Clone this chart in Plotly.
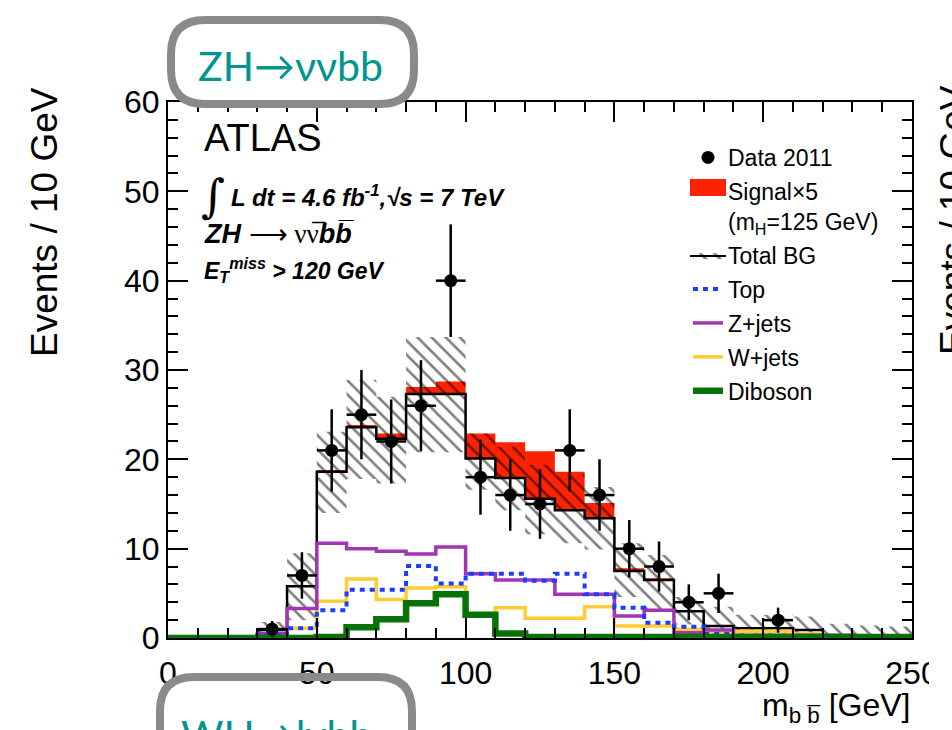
import plotly.graph_objects as go

# ---------------- data (10 GeV bins from 0 to 250 GeV) ----------------
bin_edges = [0, 10, 20, 30, 40, 50, 60, 70, 80, 90, 100, 110, 120, 130, 140, 150,
             160, 170, 180, 190, 200, 210, 220, 230, 240, 250]

total_bg = [0, 0, 0, 0.9, 5.8, 18.6, 23.6, 22.3, 27.3, 27.3, 20.1, 17.9, 15.6, 14.3,
            13.4, 7.5, 6.5, 3.0, 1.35, 1.1, 1.1, 0.9, 0.3, 0.2, 0.2]
signal_x5 = [0, 0, 0, 0, 0, 0.2, 0.25, 0.6, 0.8, 1.4, 2.8, 4.0, 5.3, 4.3, 1.7, 0.3,
             0.2, 0.1, 0, 0, 0, 0, 0, 0, 0]
bg_band_lo = [0, 0, 0, 0, 2.0, 14.0, 17.8, 17.3, 20.8, 20.8, 16.6, 14.3, 11.6, 10.6,
              9.9, 4.6, 3.2, 1.5, 0, 0, 0, 0, 0, 0, 0]
bg_band_hi = [0, 0, 0, 1.8, 9.5, 23.1, 28.9, 27.0, 33.7, 33.7, 22.9, 21.4, 19.4, 18.3,
              16.9, 10.6, 9.3, 4.6, 3.5, 2.6, 2.6, 2.4, 1.6, 1.4, 1.3]
top_bg = [0, 0, 0, 0.3, 1.1, 3.1, 5.4, 5.4, 8.05, 6.1, 7.2, 7.2, 6.4, 7.2, 4.9, 3.4,
          1.7, 1.25, 0.45, 0.15, 0.15, 0.15, 0.1, 0.05, 0.05]
zjets = [0, 0, 0, 0.5, 3.3, 10.6, 10.0, 9.7, 9.4, 10.2, 7.2, 6.5, 6.5, 4.9, 4.9, 2.45,
         3.1, 0.6, 0.9, 0.3, 0.3, 0.3, 0.3, 0.1, 0.1]
wjets = [0, 0, 0, 0.2, 1.1, 4.1, 6.6, 4.3, 5.6, 5.75, 2.5, 3.4, 2.2, 2.2, 3.5, 1.35,
         1.35, 0.97, 0.7, 0.75, 0.75, 0.45, 0.1, 0.05, 0.05]
diboson = [0, 0, 0, 0, 0, 0.1, 1.2, 2.1, 3.9, 4.9, 2.6, 0.5, 0.1, 0.1, 0.1, 0.1, 0.1,
           0.1, 0.1, 0.1, 0.1, 0.1, 0.1, 0.1, 0.1]

data_x = [35, 45, 55, 65, 75, 85, 95, 105, 115, 125, 135, 145, 155, 165, 175, 185, 205]
data_y = [1, 7, 21, 25, 22, 26, 40, 18, 16, 15, 21, 16, 10, 8, 4, 5, 2]
data_err = [0.9, 2.6, 4.6, 5.0, 4.7, 5.1, 6.3, 4.2, 4.0, 3.9, 4.6, 4.0, 3.2, 2.8, 2.0, 2.2, 1.4]
half_bin = 5

x_ticks = [0, 50, 100, 150, 200, 250]
y_ticks = [0, 10, 20, 30, 40, 50, 60]

# ---------------- helpers ----------------
def step(vals):
    return list(vals) + [vals[-1]]

W, H = 952, 730
L, R, T, B = 168, 912, 102, 638


def X(px):
    return (px - L) / (R - L)


def Y(py):
    return (B - py) / (B - T)


FONT = "Liberation Sans, Arial, Helvetica, sans-serif"
RED = "#ff2200"
BLUE = "#1a3dff"
PURPLE = "#a235b5"
YELLOW = "#ffcc33"
GREEN = "#077207"
TEAL = "#00958f"

sig_top = [b + s for b, s in zip(total_bg, signal_x5)]

fig = go.Figure()

# signal stacked on top of total background
fig.add_trace(go.Scatter(x=bin_edges, y=step(total_bg), mode="lines", line=dict(width=0, shape="hv"),
                         showlegend=False, hoverinfo="skip"))
fig.add_trace(go.Scatter(x=bin_edges, y=step(sig_top), mode="lines", line=dict(width=0, shape="hv"),
                         fill="tonexty", fillcolor=RED, name="Signal×5<br>(m<sub>H</sub>=125 GeV)",
                         legendrank=2, legendgroup="g2"))

# total BG uncertainty band (hatched)
fig.add_trace(go.Scatter(x=bin_edges, y=step(bg_band_lo), mode="lines", line=dict(width=0, shape="hv"),
                         showlegend=False, hoverinfo="skip"))
fig.add_trace(go.Scatter(x=bin_edges, y=step(bg_band_hi), mode="lines", line=dict(width=0, shape="hv"),
                         fill="tonexty", fillcolor="rgba(0,0,0,0)",
                         fillpattern=dict(shape="\\", fgcolor="black", bgcolor="rgba(0,0,0,0)",
                                          size=10, solidity=0.26),
                         name="Total BG", legendrank=3, legendgroup="g3"))

# total BG line
fig.add_trace(go.Scatter(x=bin_edges, y=step(total_bg), mode="lines",
                         line=dict(color="black", width=2.5, shape="hv"), showlegend=False))

# components
fig.add_trace(go.Scatter(x=bin_edges, y=step(wjets), mode="lines", name="W+jets",
                         line=dict(color=YELLOW, width=3.5, shape="hv"), legendrank=6, legendgroup="g6"))
fig.add_trace(go.Scatter(x=bin_edges, y=step(zjets), mode="lines", name="Z+jets",
                         line=dict(color=PURPLE, width=3.5, shape="hv"), legendrank=5, legendgroup="g5"))
fig.add_trace(go.Scatter(x=bin_edges, y=step(top_bg), mode="lines", name="Top",
                         line=dict(color=BLUE, width=4, shape="hv", dash="5px,5px"), legendrank=4,
                         legendgroup="g4"))
fig.add_trace(go.Scatter(x=bin_edges, y=step(diboson), mode="lines", name="Diboson",
                         line=dict(color=GREEN, width=6.5, shape="hv"), legendrank=7, legendgroup="g7"))

# data
fig.add_trace(go.Scatter(x=data_x, y=data_y, mode="markers", name="Data 2011",
                         marker=dict(color="black", size=13),
                         error_y=dict(type="data", array=data_err, color="black", thickness=2.5, width=0),
                         error_x=dict(type="constant", value=half_bin, color="black", thickness=2.5, width=0),
                         legendrank=1, legendgroup="g1", cliponaxis=False))

axis_common = dict(showgrid=False, zeroline=False, showline=True, linecolor="black", linewidth=2,
                   mirror="allticks", ticks="inside", tickcolor="black", tickwidth=1.5,
                   tickfont=dict(family=FONT, size=32, color="black"))

fig.update_xaxes(range=[0, 250], tickvals=x_ticks, ticklen=20, ticklabelstandoff=6,
                 minor=dict(dtick=10, ticklen=10, ticks="inside", tickcolor="black", tickwidth=1.5),
                 **axis_common)
fig.update_yaxes(range=[0, 60], tickvals=y_ticks, ticklen=20, ticklabelstandoff=0,
                 minor=dict(dtick=2, ticklen=10, ticks="inside", tickcolor="black", tickwidth=1.5),
                 **axis_common)

ann = []


def text(px, py, s, size, color="black", xanchor="left", yanchor="middle", angle=0, family=FONT):
    ann.append(dict(x=X(px), y=Y(py), xref="paper", yref="paper", text=s, showarrow=False,
                    xanchor=xanchor, yanchor=yanchor, textangle=angle,
                    font=dict(family=family, size=size, color=color)))


SERIF = "font-family:Liberation Serif"
text(202, 138, "ATLAS", 38)
text(199, 196, "∫", 46, family="DejaVu Serif")
text(229, 196, "<b><i>L dt = 4.6 fb<sup>-1</sup>,√s = 7 TeV</i></b>", 24)
text(202, 234, f"<b><i>ZH</i></b> <span style='{SERIF}'>⟶ νν\u0305</span><b><i>bb\u0305</i></b>", 27)
text(202, 270, "<b><i>E<sub>T</sub><sup>miss</sup> > 120 GeV</i></b>", 23)
text(44, 222, "Events / 10 GeV", 37, xanchor="center", angle=-90)
text(953, 220, "Events / 10 GeV", 37, xanchor="center", angle=-90)
text(913, 707, "m<sub>b b\u0305</sub> [GeV]", 32, xanchor="right")
text(290, 66, "ZH→ννbb", 41, color=TEAL, xanchor="center", family="Lato, Open Sans, sans-serif")
text(276, 734, "WH→lνbb", 41, color=TEAL, xanchor="center", family="Lato, Open Sans, sans-serif")


def rounded_box(x0, y0, x1, y1, r):
    pts = [
        f"M {X(x0 + r)},{Y(y0)}", f"L {X(x1 - r)},{Y(y0)}",
        f"Q {X(x1)},{Y(y0)} {X(x1)},{Y(y0 + r)}", f"L {X(x1)},{Y(y1 - r)}",
        f"Q {X(x1)},{Y(y1)} {X(x1 - r)},{Y(y1)}", f"L {X(x0 + r)},{Y(y1)}",
        f"Q {X(x0)},{Y(y1)} {X(x0)},{Y(y1 - r)}", f"L {X(x0)},{Y(y0 + r)}",
        f"Q {X(x0)},{Y(y0)} {X(x0 + r)},{Y(y0)}", "Z"]
    return " ".join(pts)


shapes = [
    dict(type="path", xref="paper", yref="paper", path=rounded_box(171, 20, 414, 104, 34),
         line=dict(color="#8a8a8a", width=8), layer="above"),
    dict(type="path", xref="paper", yref="paper", path=rounded_box(160, 677, 412, 790, 34),
         line=dict(color="#8a8a8a", width=8), layer="above"),
    dict(type="rect", xref="paper", yref="paper", x0=X(929), x1=X(952), y0=Y(648), y1=Y(695),
         fillcolor="white", line=dict(width=0), layer="above"),
    # legend symbol refinements: red box for signal, black centre line for total BG
    dict(type="rect", xref="paper", yref="paper", x0=X(690), x1=X(726), y0=Y(196), y1=Y(179),
         fillcolor=RED, line=dict(width=0), layer="above"),
    dict(type="line", xref="paper", yref="paper", x0=X(690), x1=X(726), y0=Y(256), y1=Y(256),
         line=dict(color="black", width=2), layer="above"),
]

fig.update_layout(
    width=W, height=H,
    margin=dict(l=L, r=W - R, t=T, b=H - B, pad=0),
    paper_bgcolor="white", plot_bgcolor="white",
    font=dict(family=FONT, color="black"),
    showlegend=True,
    legend=dict(x=X(688), y=Y(136), xanchor="left", yanchor="top", bgcolor="rgba(0,0,0,0)",
                font=dict(family=FONT, size=23, color="black"), itemwidth=30,
                traceorder="grouped", valign="top", tracegroupgap=1),
    annotations=ann,
    shapes=shapes,
)

fig.write_html("out.html")
